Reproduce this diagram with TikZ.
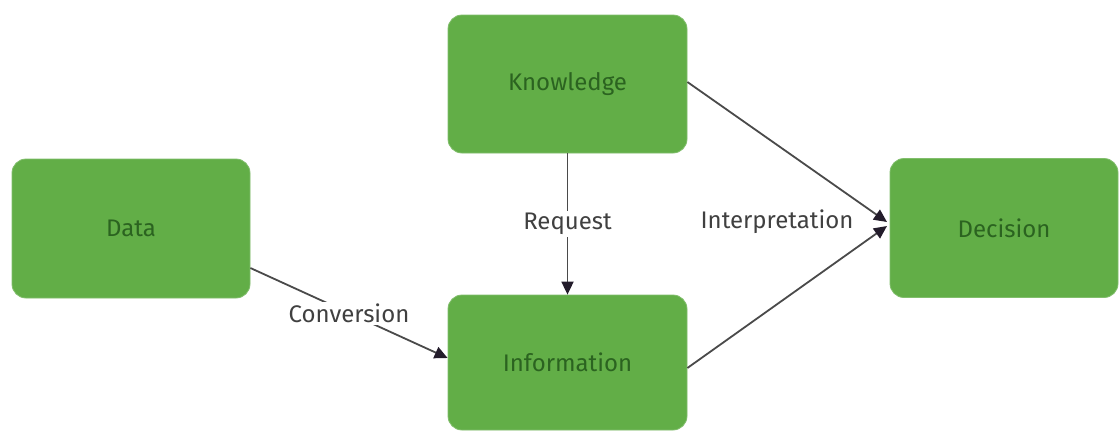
\documentclass[tikz,border=0pt]{standalone}
\usepackage{fontspec}
\setmainfont{Fira Sans}
\usetikzlibrary{arrows.meta}
\definecolor{boxgreen}{HTML}{62AE47}
\definecolor{boxtext}{HTML}{2B6320}
\definecolor{linegrey}{HTML}{4A4A4A}
\definecolor{labelgrey}{HTML}{404040}
\definecolor{tipdark}{HTML}{231C2B}
\begin{document}
\begin{tikzpicture}[x=1pt,y=-1pt,
  box/.style={fill=boxgreen, draw=boxgreen!80!white, line width=0.8pt, rounded corners=14pt, text=boxtext,
    font=\fontsize{24}{28}\selectfont},
  conn/.style={draw=linegrey, line width=1.8pt, -{Triangle[length=13pt,width=12pt,fill=tipdark,color=tipdark]}},
  lbl/.style={text=labelgrey, font=\fontsize{24}{28}\selectfont, fill=white, inner sep=2pt}
]
\useasboundingbox (0,0) rectangle (1119,432);
\fill[white] (0,0) rectangle (1119,432);
\node[box, minimum width=238pt, minimum height=139pt] (data) at (131,228.5) {Data};
\node[box, minimum width=239pt, minimum height=138pt] (know) at (567.5,84) {Knowledge};
\node[box, minimum width=239pt, minimum height=135pt] (info) at (567.5,362.5) {Information};
\node[box, minimum width=228pt, minimum height=139pt] (dec) at (1004,228) {Decision};
\coordinate (d1) at (887,222);
\coordinate (d2) at (887,226);
\draw[conn] (data.east |- 0,268) -- (info.west |- 0,358) node[lbl, pos=0.5] {Conversion};
\draw[conn] (know.south) -- (info.north) node[lbl, pos=0.5] {Request};
\draw[conn] (know.east |- 0,82) -- (d1);
\draw[conn] (info.east |- 0,368) -- (d2);
\node[lbl, fill=none] (interp) at (777,222) {Interpretation};
\end{tikzpicture}
\end{document}
